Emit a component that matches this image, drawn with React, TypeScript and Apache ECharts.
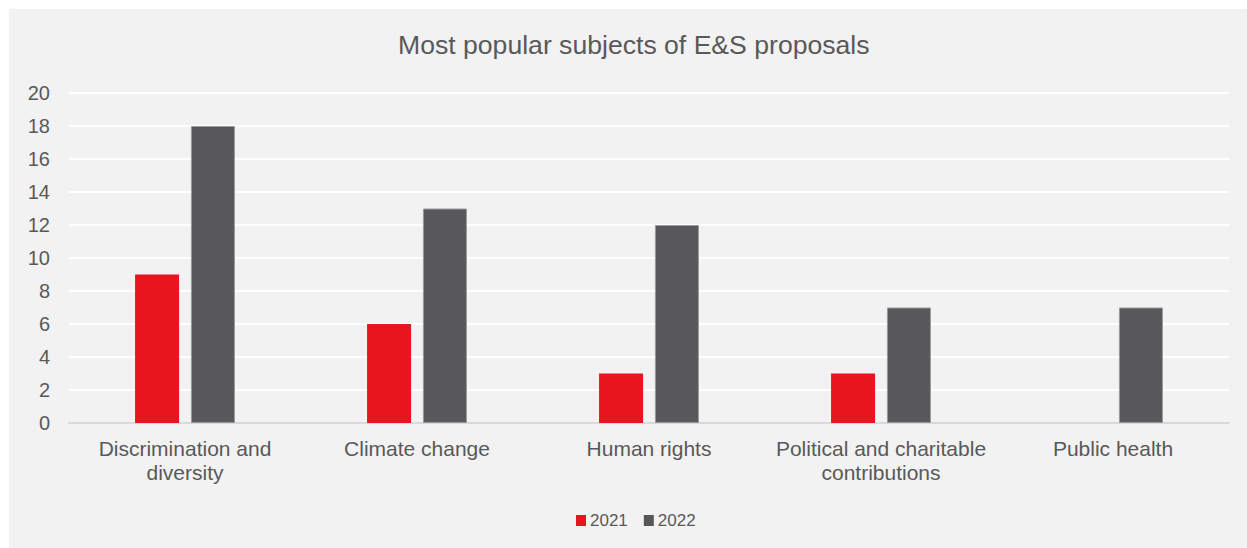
import React, { useEffect, useRef } from "react";
import * as echarts from "echarts";

const categories = [
  "Discrimination and\ndiversity",
  "Climate change",
  "Human rights",
  "Political and charitable\ncontributions",
  "Public health",
];
const values2021 = [9, 6, 3, 3, 0];
const values2022 = [18, 13, 12, 7, 7];
const seriesNames = ["2021", "2022"];

const FONT = "'Liberation Sans', Arial, sans-serif";
const TEXT = "#595959";

export default function App() {
  const ref = useRef<HTMLDivElement>(null);
  useEffect(() => {
    if (!ref.current) return;
    const chart = echarts.init(ref.current, undefined, { renderer: "svg" });
    chart.setOption({
      animation: false,
      backgroundColor: "#f2f2f2",
      textStyle: { fontFamily: FONT },
      title: {
        text: "Most popular subjects of E&S proposals",
        left: 384,
        top: 17,
        textStyle: { fontFamily: FONT, fontSize: 26.6, fontWeight: "normal", color: TEXT },
      },
      legend: {
        bottom: 14,
        left: 562,
        itemWidth: 10,
        itemHeight: 11,
        itemGap: 16,
        icon: "rect",
        itemStyle: { borderWidth: 0 },
        textStyle: { fontFamily: FONT, fontSize: 17, color: TEXT, padding: [0, 0, 0, -1] },
        data: seriesNames,
      },
      grid: { left: 60, right: 18, top: 84, bottom: 125, containLabel: false },
      xAxis: {
        type: "category",
        data: categories,
        axisTick: { show: false },
        axisLine: { lineStyle: { color: "#d9d9d9", width: 2 } },
        axisLabel: {
          fontFamily: FONT,
          fontSize: 21,
          color: TEXT,
          margin: 13,
          lineHeight: 24,
          interval: 0,
        },
      },
      yAxis: {
        type: "value",
        min: 0,
        max: 20,
        interval: 2,
        axisLine: { show: false },
        axisTick: { show: false },
        splitLine: { lineStyle: { color: "#ffffff", width: 2 } },
        axisLabel: { fontFamily: FONT, fontSize: 20, color: TEXT, margin: 19 },
      },
      series: [
        {
          name: seriesNames[0],
          type: "bar",
          data: values2021,
          barWidth: 44,
          barGap: "27%",
          itemStyle: { color: "#e8141e", borderWidth: 0 },
        },
        {
          name: seriesNames[1],
          type: "bar",
          data: values2022,
          barWidth: 44,
          barGap: "27%",
          itemStyle: { color: "#58585a", borderColor: "#9a9a9a", borderWidth: 1 },
        },
      ],
    });
    return () => chart.dispose();
  }, []);
  return (
    <div
      ref={ref}
      style={{ position: "fixed", left: 9, top: 9, width: 1238, height: 539 }}
    />
  );
}
